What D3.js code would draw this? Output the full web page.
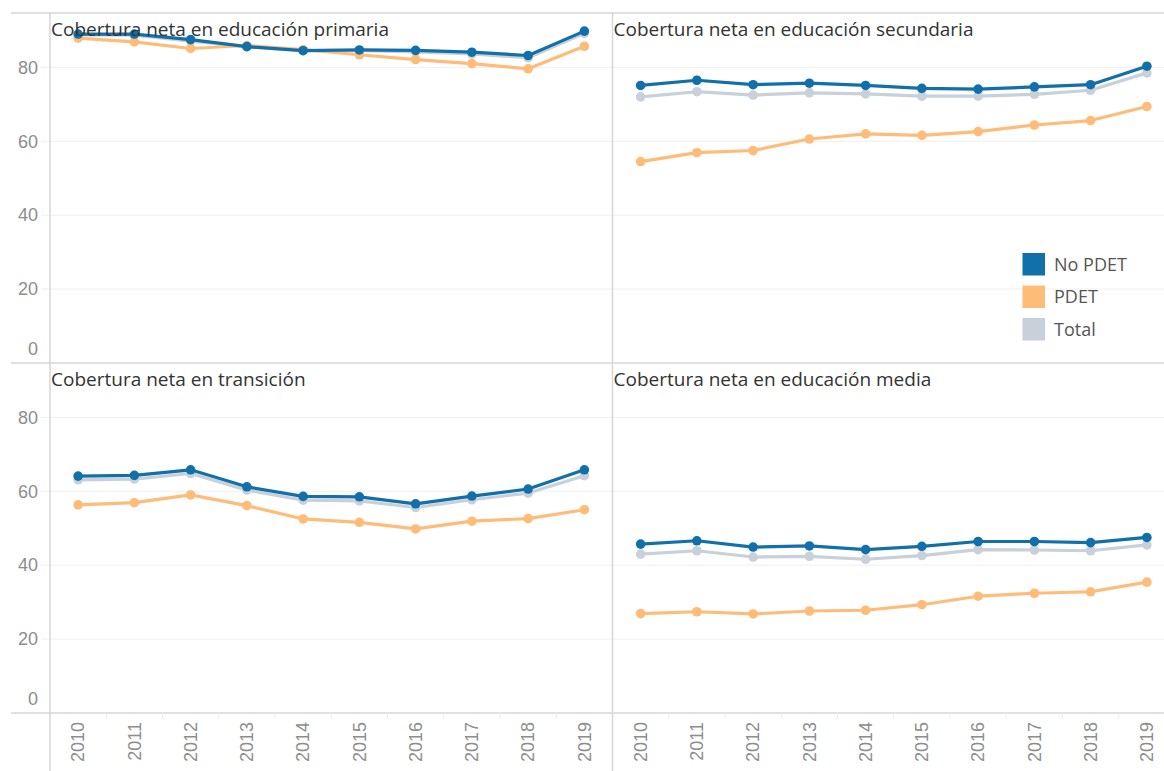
<!DOCTYPE html>
<html>
<head>
<meta charset="utf-8">
<script src="https://cdn.jsdelivr.net/npm/d3@7"></script>
<style>
  body { margin: 0; background: #fff; }
  svg { display: block; }
</style>
</head>
<body>
<div id="chart"></div>
<script>
// years on the x axis
var years = ["2010", "2011", "2012", "2013", "2014", "2015", "2016", "2017", "2018", "2019"];
var seriesNames = ["No PDET", "PDET", "Total"];
var seriesColors = ["#1170aa", "#ffbc79", "#c8d0d9"];
var yTicks = [0, 20, 40, 60, 80];

// panel titles (top-left, top-right, bottom-left, bottom-right)
var titles = [
  "Cobertura neta en educación primaria",
  "Cobertura neta en educación secundaria",
  "Cobertura neta en transición",
  "Cobertura neta en educación media"
];

// values (%)
var primariaNoPdet = [89.0, 89.0, 87.5, 85.6, 84.5, 84.7, 84.6, 84.1, 83.2, 89.8];
var primariaPdet   = [87.9, 86.9, 85.1, 85.9, 84.8, 83.4, 82.1, 81.0, 79.6, 85.7];
var primariaTotal  = [88.8, 88.7, 87.1, 85.6, 84.5, 84.5, 84.2, 83.6, 82.6, 89.2];

var secundariaNoPdet = [75.1, 76.5, 75.3, 75.7, 75.1, 74.3, 74.1, 74.7, 75.3, 80.3];
var secundariaPdet   = [54.5, 56.9, 57.5, 60.6, 62.0, 61.6, 62.6, 64.4, 65.6, 69.4];
var secundariaTotal  = [72.0, 73.4, 72.5, 73.1, 72.8, 72.2, 72.2, 72.7, 73.8, 78.5];

var transicionNoPdet = [64.1, 64.3, 65.8, 61.2, 58.6, 58.5, 56.6, 58.7, 60.6, 65.8];
var transicionPdet   = [56.3, 56.9, 59.0, 56.1, 52.5, 51.6, 49.8, 51.9, 52.6, 55.0];
var transicionTotal  = [63.1, 63.3, 64.8, 60.3, 57.6, 57.4, 55.6, 57.7, 59.5, 64.2];

var mediaNoPdet = [45.7, 46.6, 44.9, 45.2, 44.2, 45.1, 46.4, 46.4, 46.1, 47.5];
var mediaPdet   = [26.9, 27.4, 26.8, 27.6, 27.8, 29.3, 31.6, 32.4, 32.8, 35.4];
var mediaTotal  = [43.0, 43.9, 42.2, 42.4, 41.6, 42.6, 44.2, 44.1, 43.9, 45.5];

var panelData = [
  [primariaNoPdet, primariaPdet, primariaTotal],
  [secundariaNoPdet, secundariaPdet, secundariaTotal],
  [transicionNoPdet, transicionPdet, transicionTotal],
  [mediaNoPdet, mediaPdet, mediaTotal]
];

// layout
var W = 1164, H = 771;
var marginLeft = 50, marginTop = 13, edge = 11;
var panelW = 562.5, panelH = 350;
var gridColor = "#efefef", borderColor = "#d6d6d6", tickText = "#8d8d8d";
var labelFont = "'Liberation Sans', Arial, sans-serif";
var textFont = "'Open Sans', Lato, sans-serif";

var svg = d3.select("#chart")
  .append("svg")
    .attr("width", W)
    .attr("height", H);

var x = d3.scaleBand()
  .domain(years)
  .range([0, panelW]);

var y = d3.scaleLinear()
  .domain([0, 94.7])
  .range([panelH, 0]);

var line = d3.line()
  .x(function(d, i) { return x(years[i]) + x.bandwidth() / 2; })
  .y(function(d) { return y(d); });

var grid = svg.append("g");
var marks = svg.append("g");
var frame = svg.append("g");

for (var p = 0; p < 4; p++) {
  var col = p % 2, row = Math.floor(p / 2);
  var px = marginLeft + col * panelW;
  var py = marginTop + row * panelH;

  // gridlines (the left column also gets the little tick stub)
  grid.append("g")
    .attr("transform", "translate(0," + py + ")")
    .selectAll("line")
    .data(yTicks.filter(function(t) { return t > 0; }))
    .enter().append("line")
      .attr("x1", col == 0 ? 41 : px)
      .attr("x2", col == 0 ? px + panelW : W)
      .attr("y1", function(d) { return y(d); })
      .attr("y2", function(d) { return y(d); })
      .attr("stroke", gridColor)
      .attr("stroke-width", 1);

  // y tick labels only on the left column
  if (col == 0) {
    svg.append("g")
      .attr("transform", "translate(0," + py + ")")
      .selectAll("text")
      .data(yTicks)
      .enter().append("text")
        .attr("x", 38)
        .attr("y", function(d) { return d == 0 ? y(d) - 14 : y(d); })
        .attr("dy", "0.35em")
        .attr("text-anchor", "end")
        .attr("font-family", labelFont)
        .attr("font-size", "18px")
        .attr("fill", tickText)
        .text(function(d) { return d; });
  }

  var g = marks.append("g")
    .attr("transform", "translate(" + px + "," + py + ")");

  // draw Total first, then PDET, then No PDET on top
  [2, 1, 0].forEach(function(s) {
    var vals = panelData[p][s];
    g.append("path")
      .datum(vals)
      .attr("fill", "none")
      .attr("stroke", seriesColors[s])
      .attr("stroke-width", 3.2)
      .attr("stroke-linejoin", "round")
      .attr("d", line);
    g.selectAll(".pt" + s)
      .data(vals)
      .enter().append("circle")
        .attr("class", "pt" + s)
        .attr("cx", function(d, i) { return x(years[i]) + x.bandwidth() / 2; })
        .attr("cy", function(d) { return y(d); })
        .attr("r", 4.8)
        .attr("fill", seriesColors[s]);
  });

  g.append("text")
    .attr("x", 1)
    .attr("y", 23)
    .attr("font-family", textFont)
    .attr("font-size", "19px")
    .attr("fill", "#333")
    .text(titles[p]);
}

// x axis labels under both columns
for (var c = 0; c < 2; c++) {
  var ax = svg.append("g")
    .attr("transform", "translate(" + (marginLeft + c * panelW) + "," + (marginTop + 2 * panelH) + ")");
  ax.selectAll("line")
    .data(years.slice(1))
    .enter().append("line")
      .attr("x1", function(d) { return x(d); })
      .attr("x2", function(d) { return x(d); })
      .attr("y1", 0)
      .attr("y2", 6)
      .attr("stroke", "#ececec");
  ax.selectAll("text")
    .data(years)
    .enter().append("text")
      .attr("transform", function(d) {
        return "translate(" + (x(d) + x.bandwidth() / 2) + ",9) rotate(-90)";
      })
      .attr("dy", "0.35em")
      .attr("text-anchor", "end")
      .attr("font-family", labelFont)
      .attr("font-size", "18px")
      .attr("fill", tickText)
      .text(function(d) { return d; });
}

// frame lines
[marginTop, marginTop + panelH, marginTop + 2 * panelH].forEach(function(yy) {
  frame.append("line")
    .attr("x1", edge).attr("x2", W)
    .attr("y1", yy).attr("y2", yy)
    .attr("stroke", borderColor).attr("stroke-width", 1.5);
});
[marginLeft, marginLeft + panelW].forEach(function(xx) {
  frame.append("line")
    .attr("x1", xx).attr("x2", xx)
    .attr("y1", marginTop).attr("y2", H)
    .attr("stroke", borderColor).attr("stroke-width", 1.5);
});

// legend
var legend = svg.append("g")
  .attr("transform", "translate(1022.5,253)");
var item = legend.selectAll("g")
  .data(seriesNames)
  .enter().append("g")
    .attr("transform", function(d, i) { return "translate(0," + (i * 32.5) + ")"; });
item.append("rect")
  .attr("width", 22.5)
  .attr("height", 22.5)
  .attr("fill", function(d, i) { return seriesColors[i]; });
item.append("text")
  .attr("x", 31.5)
  .attr("y", 11.25)
  .attr("dy", "0.35em")
  .attr("font-family", textFont)
  .attr("font-size", "18px")
  .attr("fill", "#555")
  .text(function(d) { return d; });
</script>
</body>
</html>
